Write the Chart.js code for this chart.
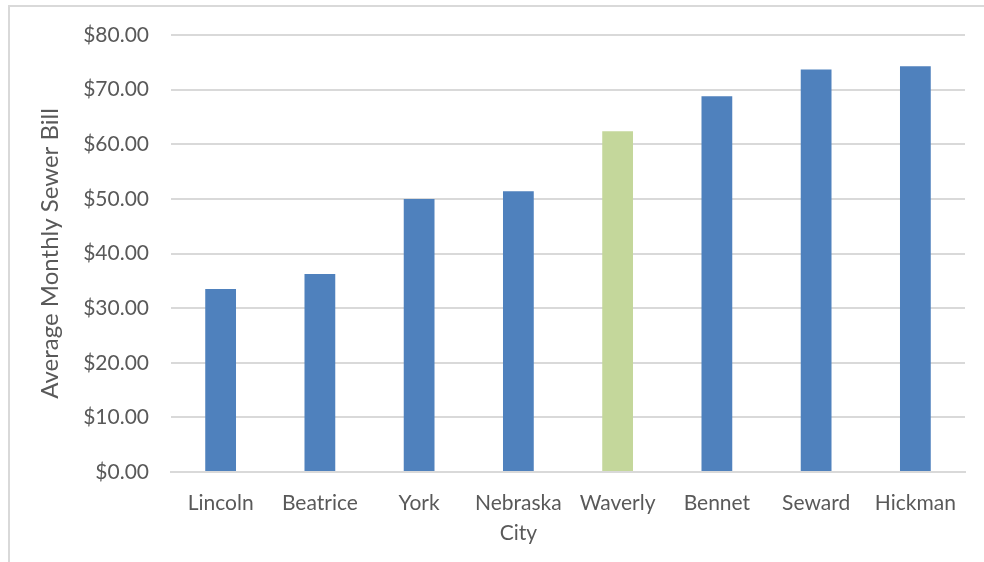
<!DOCTYPE html>
<html>
<head>
<meta charset="utf-8">
<script src="https://cdn.jsdelivr.net/npm/chart.js@4"></script>
<style>
  html, body { margin: 0; padding: 0; background: #fff; }
  #wrap { width: 984px; height: 562px; }
</style>
</head>
<body>
<div id="wrap"><canvas id="sewerChart" width="984" height="562"></canvas></div>
<script>
// data
var cities = ['Lincoln', 'Beatrice', 'York', ['Nebraska', 'City'], 'Waverly', 'Bennet', 'Seward', 'Hickman'];
var monthlyBill = [33.5, 36.25, 50.0, 51.4, 62.4, 68.8, 73.7, 74.3];
var barColors = ['#4F81BD', '#4F81BD', '#4F81BD', '#4F81BD', '#C4D79B', '#4F81BD', '#4F81BD', '#4F81BD'];
var yTicks = [0, 10, 20, 30, 40, 50, 60, 70, 80];

// light frame round the chart like the original
var framePlugin = {
    id: 'frame',
    beforeDraw: function (chart) {
        var c = chart.ctx;
        c.save();
        c.strokeStyle = '#d9d9d9';
        c.lineWidth = 2;
        c.strokeRect(9, 6, 1000, 600);
        c.restore();
    }
};

var ctx = document.getElementById('sewerChart').getContext('2d');
var chart = new Chart(ctx, {
    type: 'bar',
    data: {
        labels: cities,
        datasets: [{
            label: 'Average Monthly Sewer Bill',
            data: monthlyBill,
            backgroundColor: barColors,
            borderWidth: 0,
            barPercentage: 0.31,
            categoryPercentage: 1.0
        }]
    },
    options: {
        responsive: false,
        animation: false,
        layout: { padding: { top: 35, right: 19, left: 0, bottom: 0 } },
        plugins: {
            legend: { display: false },
            tooltip: { enabled: false }
        },
        scales: {
            x: {
                grid: { display: false, drawTicks: false },
                border: { color: '#d9d9d9', width: 2 },
                ticks: {
                    color: '#595959',
                    font: { family: 'Lato', size: 21, lineHeight: 1.45 },
                    padding: 16,
                    maxRotation: 0
                },
                afterFit: function (scale) { scale.height = 90; }
            },
            y: {
                min: 0,
                max: 80,
                afterBuildTicks: function (scale) {
                    scale.ticks = yTicks.map(function (v) { return { value: v }; });
                },
                grid: { color: '#d9d9d9', lineWidth: 2, drawTicks: false },
                border: { display: false },
                ticks: {
                    color: '#595959',
                    font: { family: 'Lato', size: 21 },
                    padding: 22,
                    callback: function (v) { return '$' + Number(v).toFixed(2); }
                },
                title: {
                    display: true,
                    text: 'Average Monthly Sewer Bill',
                    color: '#595959',
                    font: { family: 'Lato', size: 24, weight: 'normal' },
                    padding: { top: 36, bottom: 0 }
                },
                afterFit: function (scale) { scale.width = 171; }
            }
        }
    },
    plugins: [framePlugin]
});
</script>
</body>
</html>
